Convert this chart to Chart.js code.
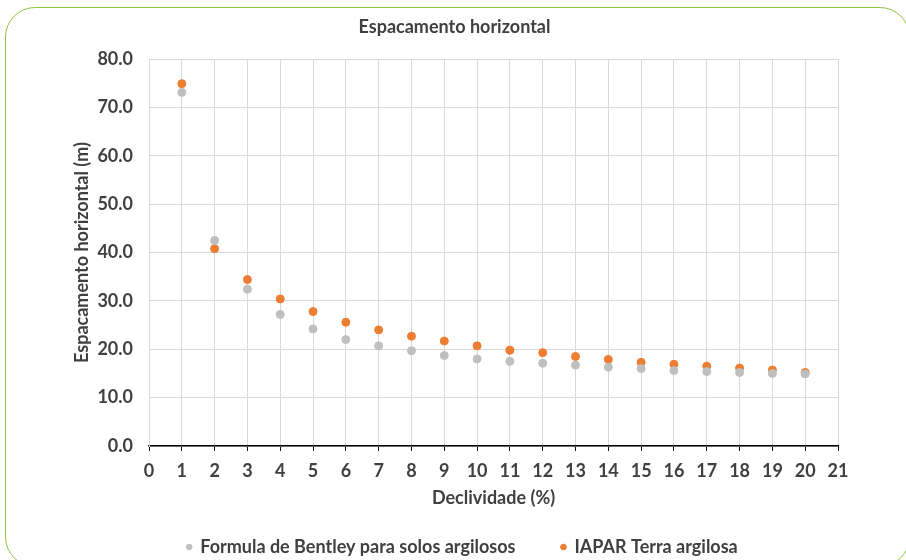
<!DOCTYPE html>
<html>
<head>
<meta charset="utf-8">
<script src="https://cdn.jsdelivr.net/npm/chart.js@4.4.0/dist/chart.umd.min.js"></script>
<style>
    html, body { margin: 0; padding: 0; background: #fff; overflow: hidden; }
    #frame {
        position: absolute; left: 5px; top: 7px; width: 905px; height: 560px;
        border: 1.5px solid #8DC63F; border-radius: 30px; box-sizing: border-box;
    }
    #wrap { position: absolute; left: 0; top: 0; width: 906px; height: 560px; }
</style>
</head>
<body>
<div id="frame"></div>
<div id="wrap"><canvas id="myChart"></canvas></div>
<script>
var declividade = [1, 2, 3, 4, 5, 6, 7, 8, 9, 10, 11, 12, 13, 14, 15, 16, 17, 18, 19, 20];
var bentley = [73.1, 42.5, 32.4, 27.2, 24.2, 22.0, 20.7, 19.7, 18.7, 18.0, 17.5, 17.1, 16.7, 16.3, 16.0, 15.6, 15.4, 15.2, 15.0, 14.9];
var iapar = [74.9, 40.8, 34.4, 30.4, 27.8, 25.6, 24.0, 22.7, 21.7, 20.7, 19.8, 19.3, 18.5, 17.9, 17.3, 16.9, 16.5, 16.1, 15.7, 15.2];
var seriesNames = ['Formula de Bentley para solos argilosos', 'IAPAR Terra argilosa'];
var chartTitle = 'Espacamento horizontal';
var xTitle = 'Declividade (%)';
var yTitle = 'Espacamento horizontal (m)';

function toPoints(values) {
    return declividade.map(function (x, i) { return { x: x, y: values[i] }; });
}

var textColor = '#404040';
var fontFamily = 'Lato, "Open Sans", sans-serif';

// legend keeps its wide item gap but a shorter box, nudged a bit right
var legendHeight = {
    id: 'legendHeight',
    beforeLayout: function (chart) {
        var legend = chart.legend;
        if (legend && !legend._patched) {
            var origFit = legend.fit;
            legend.fit = function () {
                origFit.call(this);
                this.height = 68;
            };
            legend._patched = true;
        }
    },
    afterLayout: function (chart) {
        if (chart.legend) {
            chart.legend.left += 8;
            chart.legend.right += 8;
        }
    }
};

var ctx = document.getElementById('myChart').getContext('2d');
var myChart = new Chart(ctx, {
    type: 'scatter',
    data: {
        datasets: [{
            label: seriesNames[0],
            data: toPoints(bentley),
            backgroundColor: '#BFBFBF',
            borderColor: '#BFBFBF',
            pointRadius: 4,
            pointHoverRadius: 4
        }, {
            label: seriesNames[1],
            data: toPoints(iapar),
            backgroundColor: '#ED7D31',
            borderColor: '#ED7D31',
            pointRadius: 4,
            pointHoverRadius: 4
        }]
    },
    plugins: [legendHeight],
    options: {
        responsive: true,
        maintainAspectRatio: false,
        animation: false,
        layout: { padding: { left: 71, right: 68, top: 0, bottom: 0 } },
        plugins: {
            tooltip: { enabled: false },
            title: {
                display: true,
                text: chartTitle,
                color: textColor,
                font: { family: fontFamily, size: 18, weight: 'bold' },
                padding: { top: 16, bottom: 21.4 }
            },
            legend: {
                position: 'bottom',
                labels: {
                    usePointStyle: true,
                    pointStyle: 'circle',
                    boxWidth: 4,
                    boxHeight: 4,
                    padding: 46,
                    color: textColor,
                    font: { family: fontFamily, size: 18, weight: 'bold' }
                }
            }
        },
        scales: {
            x: {
                type: 'linear',
                min: 0,
                max: 21,
                afterFit: function (scale) { scale.height = 46; },
                ticks: {
                    stepSize: 1,
                    padding: 9,
                    color: textColor,
                    font: { family: fontFamily, size: 18, weight: 'bold' }
                },
                grid: { color: '#D9D9D9', tickColor: '#000', tickLength: 5 },
                border: { color: '#000', width: 1.5 },
                title: {
                    display: true,
                    text: xTitle,
                    color: textColor,
                    font: { family: fontFamily, size: 18, weight: 'bold' },
                    padding: { top: 0, bottom: -17 }
                }
            },
            y: {
                min: 0,
                max: 80,
                afterFit: function (scale) { scale.width = 78; },
                ticks: {
                    stepSize: 10,
                    padding: 16,
                    color: textColor,
                    font: { family: fontFamily, size: 18, weight: 'bold' },
                    callback: function (v) { return v.toFixed(1); }
                },
                grid: { color: '#D9D9D9', drawTicks: false },
                border: { color: '#D9D9D9' },
                title: {
                    display: true,
                    text: yTitle,
                    color: textColor,
                    font: { family: fontFamily, size: 18, weight: 'bold' },
                    padding: { top: 0, bottom: 0 }
                }
            }
        }
    }
});
</script>
</body>
</html>
